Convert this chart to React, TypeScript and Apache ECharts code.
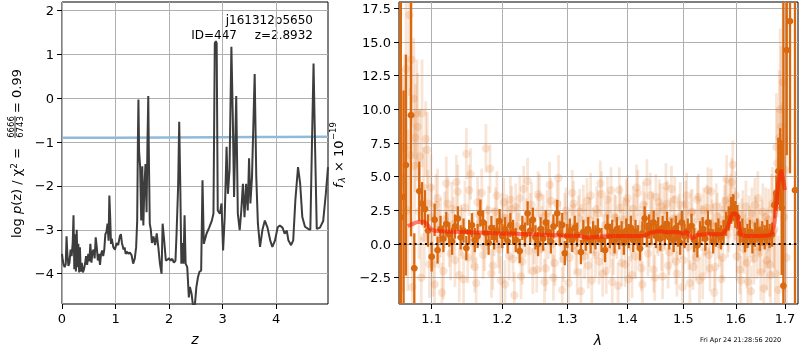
import { useEffect, useRef } from 'react';
import * as echarts from 'echarts';

const FONT = '"DejaVu Sans", Verdana, sans-serif';

// ---------- left panel: log p(z) ----------
const zTicks = [0, 1, 2, 3, 4];
const logpTicks = [-4, -3, -2, -1, 0, 1, 2];
const Z_MIN = 0;
const Z_MAX = 4.97;
const LOGP_MIN = -4.69;
const LOGP_MAX = 2.19;

const pzCurve: number[][] = [
  [0.0, -3.55], [0.015, -3.7], [0.03, -3.8], [0.05, -3.85], [0.07, -3.78], [0.085, -3.15], [0.1, -3.55], [0.12, -3.82],
  [0.14, -3.75], [0.16, -3.45], [0.18, -3.6], [0.2, -3.3], [0.215, -2.67], [0.23, -3.9], [0.245, -3.1], [0.26, -3.95],
  [0.275, -3.0], [0.29, -3.85], [0.305, -3.32], [0.32, -3.97], [0.335, -3.4], [0.35, -3.95], [0.37, -3.75], [0.39, -3.97],
  [0.41, -3.9], [0.43, -3.78], [0.45, -3.6], [0.47, -3.8], [0.49, -3.55], [0.51, -3.72], [0.53, -3.32], [0.55, -3.75],
  [0.57, -3.5], [0.59, -3.45], [0.61, -3.65], [0.63, -3.17], [0.65, -3.4], [0.67, -3.7], [0.69, -3.55], [0.71, -3.8],
  [0.73, -3.55], [0.75, -3.47], [0.77, -3.6], [0.79, -3.45], [0.81, -3.1], [0.83, -3.05], [0.85, -2.86], [0.87, -3.25],
  [0.885, -2.22], [0.9, -2.7], [0.915, -3.32], [0.93, -3.2], [0.96, -3.4], [0.99, -3.45], [1.02, -3.3], [1.05, -3.35],
  [1.08, -3.15], [1.1, -3.1], [1.12, -3.3], [1.15, -3.45], [1.17, -3.4], [1.19, -3.55], [1.21, -3.5], [1.24, -3.54],
  [1.27, -3.52], [1.3, -3.58], [1.33, -3.77], [1.36, -3.65], [1.385, -3.4], [1.405, -2.79], [1.418, -1.0], [1.428, -0.03],
  [1.44, -1.2], [1.46, -1.57], [1.48, -2.79], [1.5, -1.55], [1.52, -2.9], [1.54, -2.0], [1.56, -1.5], [1.58, -2.6],
  [1.597, -1.0], [1.612, 0.05], [1.625, -1.5], [1.64, -2.86], [1.66, -3.0], [1.68, -3.3], [1.71, -3.15], [1.74, -3.35],
  [1.77, -3.08], [1.8, -3.4], [1.83, -3.77], [1.86, -4.0], [1.88, -2.86], [1.91, -3.25], [1.94, -3.7], [1.97, -3.68],
  [2.0, -3.65], [2.03, -3.7], [2.06, -3.66], [2.09, -3.75], [2.12, -3.7], [2.14, -3.1], [2.17, -2.0], [2.19, -0.54],
  [2.21, -2.0], [2.23, -3.77], [2.25, -3.3], [2.27, -3.77], [2.29, -2.67], [2.31, -3.77], [2.34, -3.85], [2.37, -4.54],
  [2.39, -4.3], [2.42, -4.45], [2.45, -4.75], [2.48, -4.75], [2.51, -4.31], [2.54, -4.08], [2.57, -3.95], [2.6, -3.93],
  [2.625, -1.87], [2.65, -3.32], [2.7, -3.09], [2.75, -2.95], [2.8, -2.79], [2.83, -2.63], [2.855, 1.25], [2.875, 1.3],
  [2.89, 1.25], [2.91, -2.56], [2.95, -2.63], [2.98, -2.4], [3.01, -3.47], [3.04, -2.71], [3.075, -1.11], [3.1, -2.18],
  [3.13, -1.64], [3.165, 1.17], [3.19, -0.35], [3.215, -2.25], [3.255, 0.05], [3.285, -2.63], [3.32, -3.01], [3.35, -2.56],
  [3.38, -1.95], [3.41, -2.71], [3.44, -1.95], [3.47, -2.56], [3.495, -1.37], [3.52, -2.4], [3.55, -1.8], [3.6, 0.55],
  [3.63, -1.8], [3.66, -2.86], [3.7, -3.39], [3.745, -3.0], [3.79, -2.79], [3.84, -2.95], [3.89, -3.24], [3.93, -3.39],
  [3.98, -3.24], [4.03, -2.94], [4.07, -2.9], [4.12, -2.95], [4.16, -3.09], [4.2, -3.02], [4.23, -3.24], [4.28, -3.35],
  [4.32, -3.24], [4.36, -2.33], [4.41, -1.57], [4.45, -1.95], [4.49, -2.71], [4.54, -2.93], [4.6, -2.98], [4.64, -3.0],
  [4.67, -1.06], [4.7, 0.79], [4.73, -1.2], [4.76, -2.98], [4.82, -2.95], [4.88, -2.8], [4.93, -2.17], [4.97, -1.57],
];

const chi2Level: number[][] = [
  [0, -0.9], [1, -0.9], [2, -0.895], [3, -0.89], [4, -0.885], [4.97, -0.88],
];

// ---------- right panel: spectrum ----------
const lamTicks = [1.1, 1.2, 1.3, 1.4, 1.5, 1.6, 1.7];
const fluxTicks = [-2.5, 0, 2.5, 5, 7.5, 10, 12.5, 15, 17.5];
const LAM_MIN = 1.0566;
const LAM_MAX = 1.7274;
const FLUX_MIN = -4.45;
const FLUX_MAX = 17.97;

const modelFlux: number[][] = [
  [1.068, 1.34], [1.075, 1.5], [1.079, 1.61], [1.085, 1.66], [1.09, 1.66], [1.094, 1.45], [1.098, 1.15], [1.104, 0.98],
  [1.115, 0.93], [1.143, 0.89], [1.17, 0.84], [1.191, 0.8], [1.22, 0.76], [1.24, 0.72], [1.27, 0.68], [1.293, 0.64],
  [1.32, 0.6], [1.333, 0.47], [1.347, 0.54], [1.38, 0.6], [1.41, 0.6], [1.431, 0.62], [1.44, 0.85], [1.455, 0.95],
  [1.47, 0.88], [1.49, 0.9], [1.5, 0.75], [1.505, 0.95], [1.515, 0.42], [1.525, 0.65], [1.54, 0.72], [1.56, 0.72],
  [1.575, 0.75], [1.585, 1.3], [1.592, 2.2], [1.598, 2.3], [1.603, 2.1], [1.609, 0.7], [1.62, 0.6], [1.64, 0.6],
  [1.66, 0.62], [1.672, 0.7], [1.678, 1.5], [1.686, 4.5], [1.692, 5.5], [1.7, 4.0],
];

// [lambda, flux, error]
const binnedFlux: number[][] = [
  [1.056, 6.0, 30], [1.059, 2.0, 25], [1.0626, 3.5, 7.9], [1.0657, 5.86, 8.2], [1.0723, 9.57, 9.0], [1.0767, -1.8, 2.6],
  [1.0833, 3.93, 2.2], [1.087, 3.0, 1.6], [1.091, 2.6, 1.4], [1.095, 1.0, 1.2], [1.1, -0.94, 1.1], [1.104, 1.8, 1.2],
  [1.108, -0.45, 1.0], [1.112, 1.1, 1.0], [1.116, 0.4, 1.0], [1.12, 1.5, 0.9], [1.124, 0.7, 0.9], [1.128, 0.2, 1.0],
  [1.132, 1.3, 0.9], [1.136, 1.9, 0.9], [1.14, 0.5, 0.9], [1.144, 1.0, 0.9], [1.148, -0.3, 0.9], [1.152, 0.9, 0.9],
  [1.156, 1.4, 0.9], [1.16, 0.3, 0.9], [1.164, 0.6, 0.9], [1.168, 2.3, 1.0], [1.172, 1.6, 0.9], [1.176, 0.8, 0.9],
  [1.18, 0.1, 0.9], [1.184, 1.2, 0.9], [1.188, 0.5, 0.9], [1.192, 1.0, 0.9], [1.196, 1.7, 0.9], [1.2, 0.6, 0.9],
  [1.204, 1.1, 0.9], [1.208, 0.2, 0.9], [1.212, 1.4, 0.9], [1.216, 0.9, 0.9], [1.22, 0.3, 0.9], [1.226, -0.52, 0.9],
  [1.23, 1.2, 0.9], [1.234, 0.7, 0.9], [1.238, 2.28, 0.9], [1.242, 1.0, 0.9], [1.246, 1.8, 0.9], [1.25, 0.5, 0.9],
  [1.254, 0.0, 0.9], [1.258, 1.1, 0.9], [1.262, 0.4, 0.9], [1.266, 1.6, 0.9], [1.27, 0.9, 0.9], [1.274, 0.2, 0.9],
  [1.278, 1.3, 0.9], [1.284, 2.28, 1.0], [1.288, 0.8, 0.9], [1.292, 1.41, 0.9], [1.296, -0.67, 0.9], [1.3, 0.6, 0.9],
  [1.304, 1.0, 0.9], [1.308, 0.3, 0.9], [1.312, 1.2, 0.9], [1.316, 0.7, 0.9], [1.322, -0.6, 0.9], [1.326, 0.9, 0.9],
  [1.33, 0.4, 0.9], [1.334, 1.1, 0.9], [1.338, 0.2, 0.9], [1.342, 0.8, 0.9], [1.346, 0.5, 0.9], [1.35, 1.0, 0.9],
  [1.356, 0.3, 0.9], [1.362, -0.45, 0.9], [1.366, 1.29, 0.9], [1.37, 0.6, 0.9], [1.374, 0.9, 0.9], [1.378, 0.2, 0.9],
  [1.382, 1.1, 0.9], [1.386, 0.5, 0.9], [1.39, 0.8, 0.9], [1.394, 0.1, 0.9], [1.398, 1.0, 0.9], [1.402, 0.6, 0.9],
  [1.406, 1.2, 0.9], [1.41, 0.3, 0.9], [1.414, 0.9, 0.9], [1.418, 0.5, 0.9], [1.422, -0.33, 0.9], [1.426, 0.8, 0.9],
  [1.43, 1.9, 0.9], [1.434, 0.7, 0.9], [1.438, 1.3, 0.9], [1.442, 0.9, 0.9], [1.446, 1.6, 0.9], [1.45, 0.6, 0.9],
  [1.454, 1.1, 0.9], [1.458, 0.4, 0.9], [1.462, 1.2, 0.9], [1.466, 0.8, 0.9], [1.47, 1.5, 0.9], [1.474, 0.5, 0.9],
  [1.478, 1.0, 0.9], [1.482, 0.3, 0.9], [1.486, 1.2, 0.9], [1.49, 0.7, 0.9], [1.494, 0.1, 0.9], [1.497, 1.6, 0.9],
  [1.502, 0.6, 0.9], [1.508, 1.0, 0.9], [1.515, 1.35, 0.9], [1.52, 0.3, 0.9], [1.526, -0.1, 0.9], [1.531, 0.8, 0.9],
  [1.536, 1.1, 0.9], [1.541, 0.4, 0.9], [1.546, 1.6, 0.9], [1.551, 0.9, 0.9], [1.556, 0.2, 0.9], [1.561, 0.7, 0.9],
  [1.566, 1.0, 0.9], [1.571, 0.5, 0.9], [1.576, 0.9, 0.9], [1.581, 1.5, 0.9], [1.586, 1.9, 0.9], [1.591, 2.5, 1.0],
  [1.595, 2.7, 1.0], [1.599, 2.2, 1.0], [1.603, 2.0, 0.9], [1.608, 0.8, 0.9], [1.613, 1.0, 0.9], [1.618, 0.3, 0.9],
  [1.623, 0.6, 0.9], [1.628, 0.9, 0.9], [1.633, 0.2, 0.9], [1.638, 0.7, 0.9], [1.643, 1.0, 0.9], [1.648, 0.4, 0.9],
  [1.653, 0.8, 0.9], [1.658, 0.5, 0.9], [1.663, 0.9, 0.9], [1.668, 0.6, 0.9], [1.673, 0.7, 0.9], [1.678, 2.9, 1.0],
  [1.682, 3.8, 1.3], [1.686, 5.4, 2.5], [1.69, 5.6, 3.0], [1.693, 2.7, 5.0], [1.6966, -3.1, 30], [1.7036, 14.4, 7.8],
  [1.7105, 16.55, 11.3], [1.721, 4.0, 30],
];

const beamFluxEdge: number[][] = [
  [1.058, -3.4, 9], [1.06, 5.0, 8], [1.062, 4.5, 8], [1.064, 7.1, 7], [1.066, 13.0, 6], [1.068, 2.5, 6], [1.07, 17.0, 6],
  [1.071, 6.6, 5], [1.073, 13.7, 5], [1.074, -3.2, 5], [1.076, 10.8, 4.5], [1.077, 5.8, 4], [1.078, 7.9, 4], [1.08, 9.7, 4],
  [1.081, 8.7, 4], [1.083, 2.4, 3.5], [1.084, 6.5, 3.5], [1.086, -2.5, 3], [1.087, 9.7, 4], [1.089, 4.2, 3], [1.09, 0.5, 3],
  [1.092, 7.8, 2.8], [1.094, 7.0, 2.8], [1.095, 3.0, 2.5], [1.097, -1.5, 2.5], [1.099, 4.2, 2.5],
  [1.68, -2.2, 3.2], [1.682, 7.2, 4], [1.684, 6.0, 4], [1.686, -3.4, 4], [1.688, 7.9, 5], [1.69, 10.0, 6], [1.692, 8.7, 6],
  [1.694, 4.5, 6], [1.696, 12.0, 8], [1.698, 2.0, 8], [1.7, 5.5, 9], [1.703, -1.0, 9],
];

const beamFluxA: number[][] = [
  [1.1, 2.0, 2.4], [1.104, -3.0, 2.3], [1.108, 3.4, 2.2], [1.112, 1.2, 2.2], [1.116, -2.0, 2.1], [1.12, 4.5, 2.0],
  [1.124, 0.3, 2.0], [1.128, 2.6, 2.0], [1.132, -1.2, 2.0], [1.136, 3.9, 2.0], [1.14, 1.0, 1.9], [1.144, -2.6, 2.0],
  [1.148, 6.7, 1.9], [1.152, 4.0, 1.9], [1.156, 0.1, 1.9], [1.16, -1.7, 1.9], [1.164, 3.1, 1.9], [1.168, 1.6, 1.8],
  [1.172, -0.8, 1.8], [1.176, 7.1, 1.8], [1.18, 2.5, 1.8], [1.184, -2.2, 1.8], [1.188, 0.9, 1.8], [1.192, 3.6, 1.8],
  [1.196, -0.4, 1.8], [1.2, 2.0, 1.8], [1.204, -3.0, 1.8], [1.208, 1.4, 1.8], [1.212, 3.3, 1.7], [1.216, -1.1, 1.7],
  [1.22, 2.8, 1.7], [1.224, 0.6, 1.7], [1.228, -2.4, 1.7], [1.232, 4.1, 1.7], [1.236, 1.7, 1.7], [1.24, -0.5, 1.7],
  [1.244, 2.9, 1.7], [1.248, 0.2, 1.7], [1.252, -1.9, 1.7], [1.256, 3.5, 1.7], [1.26, 1.1, 1.7], [1.264, -2.8, 1.7],
  [1.268, 2.3, 1.7], [1.272, 4.4, 1.7], [1.276, 0.0, 1.7], [1.28, -1.4, 1.7], [1.284, 3.0, 1.7], [1.288, 1.5, 1.7],
  [1.292, -3.4, 1.7], [1.296, 2.1, 1.7], [1.3, 0.7, 1.7], [1.304, -1.0, 1.7], [1.308, 3.8, 1.7], [1.312, 1.3, 1.7],
  [1.316, -2.1, 1.7], [1.32, 2.4, 1.7], [1.324, 0.4, 1.7], [1.328, -0.9, 1.7], [1.332, 3.2, 1.7], [1.336, 1.8, 1.7],
  [1.34, -2.7, 1.7], [1.344, 0.8, 1.7], [1.348, 2.6, 1.7], [1.352, -1.3, 1.7], [1.356, 3.7, 1.7], [1.36, 0.5, 1.7],
  [1.364, -2.0, 1.7], [1.368, 2.2, 1.7], [1.372, 4.0, 1.7], [1.376, -0.6, 1.7], [1.38, 1.9, 1.7], [1.384, -3.1, 1.7],
  [1.388, 2.7, 1.7], [1.392, 0.9, 1.7], [1.396, -1.5, 1.7], [1.4, 3.4, 1.7], [1.404, 1.2, 1.7], [1.408, -2.3, 1.7],
  [1.412, 2.0, 1.7], [1.416, 4.2, 1.7], [1.42, 0.1, 1.7], [1.424, -1.8, 1.7], [1.428, 2.9, 1.7], [1.432, 1.4, 1.7],
  [1.436, -0.7, 1.7], [1.44, 3.6, 1.7], [1.444, 2.2, 1.7], [1.448, -2.5, 1.7], [1.452, 1.0, 1.7], [1.456, 3.1, 1.7],
  [1.46, -0.3, 1.7], [1.464, 2.5, 1.7], [1.468, 4.3, 1.7], [1.472, -1.6, 1.7], [1.476, 1.7, 1.7], [1.48, 0.3, 1.7],
  [1.484, 3.3, 1.7], [1.488, -2.2, 1.7], [1.492, 2.0, 1.7], [1.496, 0.6, 1.7], [1.5, -1.2, 1.7], [1.504, 3.0, 1.7],
  [1.508, 1.1, 1.7], [1.512, -2.9, 1.7], [1.516, 2.4, 1.7], [1.52, 0.2, 1.7], [1.524, -1.0, 1.7], [1.528, 3.5, 1.7],
  [1.532, 1.6, 1.7], [1.536, -2.4, 1.7], [1.54, 0.8, 1.7], [1.544, 2.7, 1.7], [1.548, -0.8, 1.7], [1.552, 3.9, 1.7],
  [1.556, 1.3, 1.7], [1.56, -1.7, 1.7], [1.564, 2.1, 1.7], [1.568, 0.0, 1.7], [1.572, -2.6, 1.7], [1.576, 1.8, 1.7],
  [1.58, 3.2, 1.7], [1.584, 0.7, 1.7], [1.588, 3.0, 1.8], [1.592, 4.6, 1.8], [1.596, 1.9, 1.8], [1.6, 3.6, 1.8],
  [1.604, 0.5, 1.8], [1.608, -1.9, 1.8], [1.612, 1.6, 1.8], [1.616, -0.4, 1.8], [1.62, 2.8, 1.9], [1.624, -2.8, 1.9],
  [1.628, 0.9, 1.9], [1.632, 2.3, 1.9], [1.636, -1.1, 1.9], [1.64, 1.5, 2.0], [1.644, 3.4, 2.0], [1.648, -0.2, 2.0],
  [1.652, 1.2, 2.1], [1.656, -3.3, 2.1], [1.66, 2.0, 2.2], [1.664, 0.4, 2.2], [1.668, -1.5, 2.4], [1.672, 2.6, 2.6],
  [1.676, 1.0, 2.8],
];

const beamFluxB: number[][] = [
  [1.102, -1.5, 2.4], [1.106, 2.9, 2.3], [1.11, 0.4, 2.2], [1.114, -3.6, 2.2], [1.118, 1.8, 2.1], [1.122, 3.0, 2.0],
  [1.126, -0.7, 2.0], [1.13, 1.5, 2.0], [1.134, 4.6, 2.0], [1.138, -2.3, 2.0], [1.142, 0.8, 1.9], [1.146, 2.7, 2.0],
  [1.15, -1.0, 1.9], [1.154, 5.2, 1.9], [1.158, 0.5, 1.9], [1.162, -2.9, 1.9], [1.166, 2.2, 1.9], [1.17, 3.8, 1.8],
  [1.174, -0.2, 1.8], [1.178, 1.1, 1.8], [1.182, 5.6, 1.8], [1.186, -1.6, 1.8], [1.19, 2.4, 1.8], [1.194, 0.0, 1.8],
  [1.198, -2.7, 1.8], [1.202, 3.1, 1.8], [1.206, 1.9, 1.8], [1.21, -0.9, 1.8], [1.214, 2.6, 1.7], [1.218, -3.8, 1.7],
  [1.222, 1.3, 1.7], [1.226, 3.4, 1.7], [1.23, -1.3, 1.7], [1.234, 0.7, 1.7], [1.238, 4.7, 1.7], [1.242, 2.1, 1.7],
  [1.246, -2.0, 1.7], [1.25, 1.0, 1.7], [1.254, 3.7, 1.7], [1.258, -0.4, 1.7], [1.262, 2.0, 1.7], [1.266, -1.8, 1.7],
  [1.27, 0.6, 1.7], [1.274, 3.2, 1.7], [1.278, -2.5, 1.7], [1.282, 1.7, 1.7], [1.286, 4.9, 1.7], [1.29, 0.3, 1.7],
  [1.294, -1.1, 1.7], [1.298, 2.5, 1.7], [1.302, -2.9, 1.7], [1.306, 1.2, 1.7], [1.31, 3.0, 1.7], [1.314, -0.5, 1.7],
  [1.318, 1.9, 1.7], [1.322, -3.5, 1.7], [1.326, 2.7, 1.7], [1.33, 0.9, 1.7], [1.334, -1.6, 1.7], [1.338, 3.6, 1.7],
  [1.342, 1.0, 1.7], [1.346, -0.8, 1.7], [1.35, 2.3, 1.7], [1.354, 4.5, 1.7], [1.358, -2.2, 1.7], [1.362, 1.4, 1.7],
  [1.366, 3.3, 1.7], [1.37, -0.1, 1.7], [1.374, -2.8, 1.7], [1.378, 2.0, 1.7], [1.382, 0.6, 1.7], [1.386, 4.0, 1.7],
  [1.39, -1.4, 1.7], [1.394, 1.8, 1.7], [1.398, 3.1, 1.7], [1.402, -2.6, 1.7], [1.406, 0.4, 1.7], [1.41, 2.6, 1.7],
  [1.414, -0.9, 1.7], [1.418, 3.8, 1.7], [1.422, 1.1, 1.7], [1.426, -3.0, 1.7], [1.43, 2.2, 1.7], [1.434, 4.6, 1.7],
  [1.438, 0.0, 1.7], [1.442, 1.6, 1.7], [1.446, -1.9, 1.7], [1.45, 3.5, 1.7], [1.454, 0.8, 1.7], [1.458, 2.8, 1.7],
  [1.462, -2.4, 1.7], [1.466, 1.3, 1.7], [1.47, 3.0, 1.7], [1.474, -0.6, 1.7], [1.478, 4.1, 1.7], [1.482, 1.9, 1.7],
  [1.486, -1.3, 1.7], [1.49, 0.5, 1.7], [1.494, 2.9, 1.7], [1.498, -3.2, 1.7], [1.502, 1.5, 1.7], [1.506, 3.6, 1.7],
  [1.51, -0.2, 1.7], [1.514, 2.3, 1.7], [1.518, -1.7, 1.7], [1.522, 0.9, 1.7], [1.526, 3.3, 1.7], [1.53, -2.7, 1.7],
  [1.534, 1.2, 1.7], [1.538, 2.5, 1.7], [1.542, -0.5, 1.7], [1.546, 4.0, 1.7], [1.55, -1.8, 1.7], [1.554, 1.6, 1.7],
  [1.558, -3.6, 1.7], [1.562, 2.8, 1.7], [1.566, 0.6, 1.7], [1.57, 1.4, 1.7], [1.574, -1.0, 1.7], [1.578, 2.6, 1.8],
  [1.582, 4.8, 1.8], [1.586, 1.2, 1.8], [1.59, 3.4, 1.8], [1.594, 5.9, 1.8], [1.598, 2.4, 1.8], [1.602, -0.9, 1.8],
  [1.606, 1.3, 1.8], [1.61, -2.7, 1.8], [1.614, 2.2, 1.8], [1.618, 0.3, 1.9], [1.622, -1.4, 1.9], [1.626, 1.7, 1.9],
  [1.63, -3.5, 1.9], [1.634, 0.6, 1.9], [1.638, 2.9, 2.0], [1.642, -0.6, 2.0], [1.646, 1.0, 2.0], [1.65, -2.1, 2.1],
  [1.654, 2.4, 2.1], [1.658, 0.1, 2.2], [1.662, -1.2, 2.2], [1.666, 1.8, 2.3], [1.67, -2.3, 2.5], [1.674, 3.0, 2.7],
  [1.678, 1.1, 3.0],
];

const fmtNum = (v: number, d: number) => (v < -1e-9 ? '\u2212' : '') + Math.abs(v).toFixed(d);

const ORANGE = '#d9680f';
const FAINT = 'rgba(222,115,35,0.19)';

function errRender(stroke: string, fill: string, lw: number, r: number) {
  return (_params: any, api: any) => {
    const x = api.value(0);
    const f = api.value(1);
    const e = api.value(2);
    const lo = Math.max(f - e, FLUX_MIN);
    const hi = Math.min(f + e, FLUX_MAX);
    const ch: any[] = [];
    if (hi > lo) {
      const a = api.coord([x, hi]);
      const b = api.coord([x, lo]);
      ch.push({ type: 'line', shape: { x1: a[0], y1: a[1], x2: b[0], y2: b[1] }, style: { stroke, lineWidth: lw } });
    }
    if (f > FLUX_MIN && f < FLUX_MAX) {
      const p = api.coord([x, f]);
      ch.push({ type: 'circle', shape: { cx: p[0], cy: p[1], r }, style: { fill } });
    }
    return { type: 'group', children: ch };
  };
}

const tickStyle = { show: true, length: 5, lineStyle: { color: '#000', width: 1 } };
const splitStyle = { show: true, lineStyle: { color: '#b0b0b0', width: 1 } };
const labelBase = { fontSize: 13, color: '#000', fontFamily: FONT };

function buildOption(): any {
  const toLn = (rows: number[][]) => rows.map((r) => [Math.log(r[0]), ...r.slice(1)]);
  const faint = toLn([...beamFluxEdge, ...beamFluxA, ...beamFluxB]);
  const dark = toLn(binnedFlux);

  return {
    animation: false,
    textStyle: { fontFamily: FONT },
    grid: [
      { left: 62, top: 2, width: 266, height: 302, show: true, borderColor: '#000', borderWidth: 1, backgroundColor: 'transparent' },
      { left: 399, top: 2, width: 399, height: 302, show: true, borderColor: '#000', borderWidth: 1, backgroundColor: 'transparent' },
    ],
    xAxis: [
      {
        gridIndex: 0, type: 'value', min: Z_MIN, max: Z_MAX,
        axisLine: { show: false, onZero: false },
        axisTick: { ...tickStyle, customValues: zTicks },
        axisLabel: { ...labelBase, margin: 8, customValues: zTicks, formatter: (v: number) => fmtNum(v, 0) },
        splitLine: splitStyle,
      },
      {
        gridIndex: 1, type: 'value', min: Math.log(LAM_MIN), max: Math.log(LAM_MAX),
        axisLine: { show: false, onZero: false },
        axisTick: { ...tickStyle, customValues: lamTicks.map((v) => Math.log(v)) },
        axisLabel: { ...labelBase, margin: 8, customValues: lamTicks.map((v) => Math.log(v)), formatter: (v: number) => Math.exp(v).toFixed(1) },
        splitLine: splitStyle,
      },
    ],
    yAxis: [
      {
        gridIndex: 0, type: 'value', min: LOGP_MIN, max: LOGP_MAX,
        axisLine: { show: false, onZero: false },
        axisTick: { ...tickStyle, customValues: logpTicks },
        axisLabel: { ...labelBase, margin: 8, customValues: logpTicks, formatter: (v: number) => fmtNum(v, 0) },
        splitLine: splitStyle,
      },
      {
        gridIndex: 1, type: 'value', min: FLUX_MIN, max: FLUX_MAX,
        axisLine: { show: false, onZero: false },
        axisTick: { ...tickStyle, customValues: fluxTicks },
        axisLabel: { ...labelBase, margin: 8, customValues: fluxTicks, formatter: (v: number) => fmtNum(v, 1) },
        splitLine: splitStyle,
      },
    ],
    series: [
      {
        type: 'line', xAxisIndex: 0, yAxisIndex: 0, data: chi2Level, symbol: 'none', silent: true, z: 2,
        lineStyle: { color: '#8fbbd9', width: 2.5 },
      },
      {
        type: 'line', xAxisIndex: 0, yAxisIndex: 0, data: pzCurve, symbol: 'none', silent: true, z: 3,
        lineStyle: { color: '#3d3d3d', width: 2 },
      },
      {
        type: 'custom', xAxisIndex: 1, yAxisIndex: 1, data: faint, encode: { x: 0, y: 1 }, clip: true, silent: true, z: 2,
        renderItem: errRender(FAINT, FAINT, 2.8, 4.2),
      },
      {
        type: 'custom', xAxisIndex: 1, yAxisIndex: 1, data: dark, encode: { x: 0, y: 1 }, clip: true, silent: true, z: 3,
        renderItem: errRender(ORANGE, ORANGE, 2.3, 3.4),
      },
      {
        type: 'line', xAxisIndex: 1, yAxisIndex: 1, data: toLn(modelFlux), symbol: 'none', silent: true, z: 4,
        lineStyle: { color: 'rgba(255,20,0,0.55)', width: 4 },
      },
      {
        type: 'line', xAxisIndex: 1, yAxisIndex: 1, symbol: 'none', silent: true, z: 5,
        data: [[Math.log(LAM_MIN), 0], [Math.log(LAM_MAX), 0]],
        lineStyle: { color: '#000', width: 2, type: [2, 3.2] },
      },
    ],
    graphic: [
      { type: 'text', x: 313, y: 19.5, silent: true, style: { text: 'j161312p5650', fontSize: 12, fontFamily: FONT, fill: '#000', textAlign: 'right', textVerticalAlign: 'middle' } },
      { type: 'text', x: 237, y: 34.5, silent: true, style: { text: 'ID=447', fontSize: 12, fontFamily: FONT, fill: '#000', textAlign: 'right', textVerticalAlign: 'middle' } },
      { type: 'text', x: 313, y: 34.5, silent: true, style: { text: 'z=2.8932', fontSize: 12, fontFamily: FONT, fill: '#000', textAlign: 'right', textVerticalAlign: 'middle' } },
      { type: 'text', x: 195, y: 339, silent: true, style: { text: 'z', fontSize: 14, fontStyle: 'italic', fontFamily: FONT, fill: '#000', textAlign: 'center', textVerticalAlign: 'middle' } },
      { type: 'text', x: 598, y: 340, silent: true, style: { text: 'λ', fontSize: 14, fontStyle: 'italic', fontFamily: FONT, fill: '#000', textAlign: 'center', textVerticalAlign: 'middle' } },
      { type: 'text', x: 700, y: 339.5, silent: true, style: { text: 'Fri Apr 24 21:28:56 2020', fontSize: 6.5, fontFamily: FONT, fill: '#000', textAlign: 'left', textVerticalAlign: 'middle' } },
      {
        type: 'group', x: 16, y: 238, rotation: Math.PI / 2, silent: true,
        children: [
          {
            type: 'text', x: 0, y: 0,
            style: {
              text: '{n|log }{i|p}{n|(z) / χ}{s|2}{n| =}', fontFamily: FONT, fill: '#000', textAlign: 'left', textVerticalAlign: 'middle',
              rich: {
                n: { fontSize: 13, fontFamily: FONT, fill: '#000' },
                i: { fontSize: 13, fontStyle: 'italic', fontFamily: FONT, fill: '#000' },
                s: { fontSize: 9, fontFamily: FONT, fill: '#000', verticalAlign: 'top' },
              },
            },
          },
          { type: 'text', x: 111, y: -5, style: { text: '6666', fontSize: 8.5, fontFamily: FONT, fill: '#000', textAlign: 'center', textVerticalAlign: 'middle' } },
          { type: 'line', shape: { x1: 100, y1: -1, x2: 122, y2: -1 }, style: { stroke: '#000', lineWidth: 0.8 } },
          { type: 'text', x: 111, y: 3.5, style: { text: '6743', fontSize: 8.5, fontFamily: FONT, fill: '#000', textAlign: 'center', textVerticalAlign: 'middle' } },
          { type: 'text', x: 125, y: 0, style: { text: '= 0.99', fontSize: 13, fontFamily: FONT, fill: '#000', textAlign: 'left', textVerticalAlign: 'middle' } },
        ],
      },
      {
        type: 'group', x: 338, y: 188, rotation: Math.PI / 2, silent: true,
        children: [
          { type: 'text', x: 0, y: 0, style: { text: 'f', fontSize: 13, fontStyle: 'italic', fontFamily: FONT, fill: '#000', textAlign: 'left', textVerticalAlign: 'middle' } },
          { type: 'text', x: 5.5, y: 3.5, style: { text: 'λ', fontSize: 9, fontStyle: 'italic', fontFamily: FONT, fill: '#000', textAlign: 'left', textVerticalAlign: 'middle' } },
          { type: 'text', x: 16, y: 0, style: { text: '× 10', fontSize: 13, fontFamily: FONT, fill: '#000', textAlign: 'left', textVerticalAlign: 'middle' } },
          { type: 'text', x: 48, y: -5, style: { text: '\u221219', fontSize: 8.5, fontFamily: FONT, fill: '#000', textAlign: 'left', textVerticalAlign: 'middle' } },
        ],
      },
    ],
  };
}

export default function App() {
  const ref = useRef<HTMLDivElement>(null);
  useEffect(() => {
    if (!ref.current) return;
    const chart = echarts.init(ref.current, null, { renderer: 'svg' });
    chart.setOption(buildOption());
    return () => chart.dispose();
  }, []);
  return <div ref={ref} style={{ position: 'fixed', left: 0, top: 0, width: 800, height: 350 }} />;
}
